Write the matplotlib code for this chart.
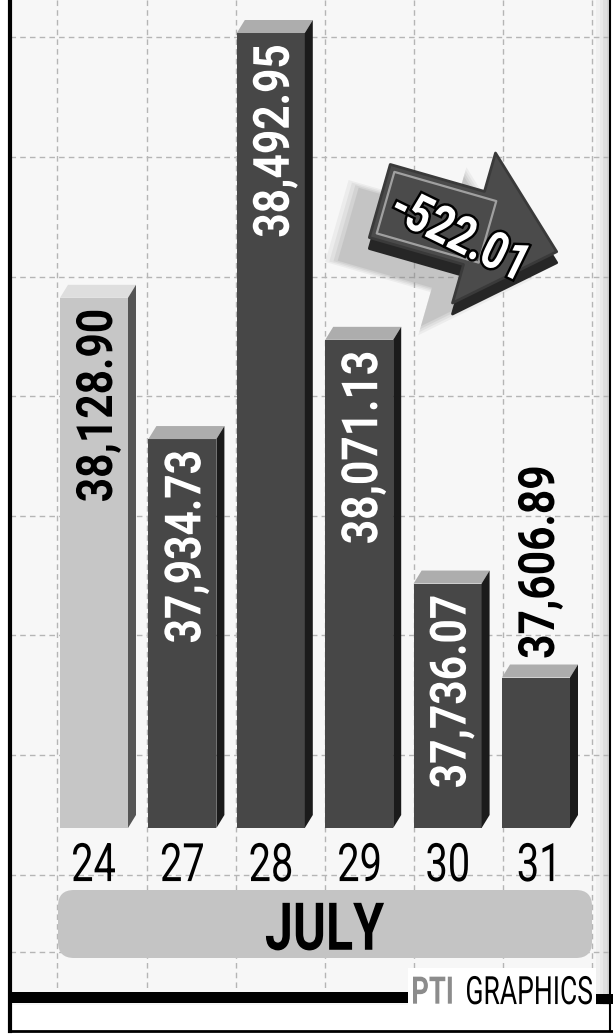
import matplotlib
matplotlib.use('Agg')
import matplotlib.pyplot as plt
import matplotlib.patches as mpatches
from matplotlib.font_manager import FontProperties
from matplotlib.textpath import TextPath
from matplotlib.transforms import Affine2D
import numpy as np

# Sensex closing values, July
dates = ['24', '27', '28', '29', '30', '31']
closes = [38128.90, 37934.73, 38492.95, 38071.13, 37736.07, 37606.89]
month = 'JULY'

W, H = 613, 1034
FAMILY = ['Roboto', 'DejaVu Sans']

base = 37400            # value at the foot of the bars
x0px, xstep = 94, 88.4  # pixel centre of first bar, bar spacing
ypx_base = 828          # pixel row of the bar feet
vpp = 1.3748            # index points per pixel

fig = plt.figure(figsize=(W / 100, H / 100), dpi=100)
fig.patch.set_facecolor('white')
ax = fig.add_axes([0, 0, 1, 1])
ax.set_xlim(-x0px / xstep, (W - x0px) / xstep)
ax.set_ylim(base - (H - ypx_base) * vpp, base + ypx_base * vpp)
ax.axis('off')

# image pixel coords (y down) -> display
pxT = Affine2D().scale(1, -1).translate(0, H)


def ctext(x, y, s, size, color, bold=False, angle=0, ha='center', stretch=0.75,
          stroke=None, zorder=5):
    # condensed text drawn as a path; x, y are display pixels (y up)
    prop = FontProperties(family=FAMILY, weight='bold' if bold else 'normal')
    tp = TextPath((0, 0), s, size=size, prop=prop)
    ext = tp.get_extents()
    hx = {'left': ext.x0, 'center': (ext.x0 + ext.x1) / 2, 'right': ext.x1}[ha]
    tr = (Affine2D().translate(-hx, -0.36 * size).scale(stretch, 1)
          .rotate_deg(angle).translate(x, y))
    if stroke:
        ax.add_patch(mpatches.PathPatch(tp, transform=tr, facecolor=stroke,
                                        edgecolor=stroke, lw=3.5, zorder=zorder))
    ax.add_patch(mpatches.PathPatch(tp, transform=tr, facecolor=color,
                                    edgecolor='none', zorder=zorder))


# paper background + dashed grid
ax.add_patch(mpatches.Rectangle((10, 0), 598, 1005, transform=pxT,
                                facecolor='#f7f7f7', edgecolor='none', zorder=0))
for k, c in enumerate(['#f0f0f0', '#e8e8e8', '#dedede', '#d4d4d4']):
    ax.add_patch(mpatches.Rectangle((596 + 3.5 * k, 0), 3.5, 1005, transform=pxT,
                                    facecolor=c, edgecolor='none', zorder=0))
for gx in [57, 147, 236, 325, 414, 503, 592]:
    ax.plot([gx, gx], [0, 993], transform=pxT, color='#b5b5b5', lw=1,
            ls=(0, (4, 3)), zorder=1)
for gy in [37, 157, 277, 396, 516, 635, 755, 875, 952]:
    ax.plot([10, 608], [gy, gy], transform=pxT, color='#b5b5b5', lw=1,
            ls=(0, (4, 3)), zorder=1)

# 3D bars
xs = np.arange(len(closes))
bw = 68 / xstep
dx = 8 / xstep
dy = 13 * vpp
fronts = ['#c6c6c6'] + ['#474747'] * (len(closes) - 1)
sides = ['#555555'] + ['#1b1b1b'] * (len(closes) - 1)
tops = ['#dedede'] + ['#adadad'] * (len(closes) - 1)
heights = [v - base for v in closes]
ax.bar(xs, heights, bottom=base, width=bw, color=fronts, zorder=3)
for i, v in enumerate(closes):
    l, r = i - bw / 2, i + bw / 2
    ax.add_patch(mpatches.Polygon([(l, v), (r, v), (r + dx, v + dy), (l + dx, v + dy)],
                                  closed=True, facecolor=tops[i], edgecolor='none', zorder=3))
    ax.add_patch(mpatches.Polygon([(r, base), (r, v), (r + dx, v + dy), (r + dx, base + dy)],
                                  closed=True, facecolor=sides[i], edgecolor='none', zorder=3))

    label = f'{v:,.2f}'
    if (v - base) / vpp > 210:
        X, Y = ax.transData.transform((i, v - 13 * vpp))
        ctext(X, Y, label, 50, 'black' if i == 0 else 'white', bold=True,
              angle=90, ha='right', stretch=0.85)
    else:
        X, Y = ax.transData.transform((i, v + 20 * vpp))
        ctext(X, Y, label, 50, 'black', bold=True, angle=90, ha='left', stretch=0.85)

    X, Y = ax.transData.transform((i, base - 34 * vpp))
    ctext(X, Y, dates[i], 53, 'black', stretch=0.75)

# month band
ax.add_patch(mpatches.FancyBboxPatch((58, 890), 534, 68, transform=pxT,
                                     boxstyle='round,pad=0,rounding_size=16',
                                     facecolor='#c4c4c4', edgecolor='none', zorder=2))
ctext(325, H - 926, month, 66, 'black', bold=True, stretch=0.76)

# change arrow
chg = closes[-1] - closes[0]
theta = np.deg2rad(16)
cx, cy = 474, 228
local = np.array([(-98, -38), (0, -38), (0, -78), (86, 0), (0, 78), (0, 38), (-98, 38)])


def place(pts, ox=0, oy=0):
    u, w = pts[:, 0], pts[:, 1]
    xy = np.column_stack([cx + ox + u * np.cos(theta) - w * np.sin(theta),
                          cy + oy + u * np.sin(theta) + w * np.cos(theta)])
    return xy


for k, a in enumerate([0.10, 0.12, 0.15, 0.2]):
    grow = 1.0 + 0.04 * (3 - k)
    ax.add_patch(mpatches.Polygon(place(local * grow - [10, 0], -22, 26), closed=True,
                                  transform=pxT, facecolor='#8c8c8c', alpha=a,
                                  edgecolor='none', zorder=5))
ax.add_patch(mpatches.Polygon(place(local, 0, 11), closed=True, transform=pxT,
                              facecolor='#262626', edgecolor='#262626', lw=2,
                              joinstyle='round', zorder=6))
ax.add_patch(mpatches.Polygon(place(local), closed=True, transform=pxT,
                              facecolor='#4b4b4b', edgecolor='#3a3a3a', lw=2,
                              joinstyle='round', zorder=7))
inner = np.array([(-92, -32), (14, -32), (14, 32), (-92, 32)])
ax.add_patch(mpatches.Polygon(place(inner), closed=True, transform=pxT,
                              facecolor='none', edgecolor='#a0a0a0', lw=1.6,
                              joinstyle='round', zorder=8))
ctext(459, H - 232, f'{chg:.2f}', 52, 'white', bold=True, angle=-26, stretch=0.8,
      stroke='black', zorder=9)

# footer
ax.add_patch(mpatches.Rectangle((10, 992), 398, 11, transform=pxT,
                                facecolor='black', edgecolor='none', zorder=4))
ax.add_patch(mpatches.Rectangle((596, 994), 17, 10, transform=pxT,
                                facecolor='black', edgecolor='none', zorder=4))
ax.add_patch(mpatches.Rectangle((408, 968), 188, 37, transform=pxT,
                                facecolor='white', edgecolor='none', zorder=3))
ctext(413, H - 990, 'PTI', 38, '#8c8c8c', bold=True, ha='left', stretch=0.72)
ctext(467, H - 990, 'GRAPHICS', 39, 'black', ha='left', stretch=0.68)

# frame
ax.plot([9.5, 9.5], [0, 1031], transform=pxT, color='black', lw=3, zorder=10)
ax.plot([9, 613], [1031, 1031], transform=pxT, color='black', lw=2, zorder=10)
ax.plot([610, 610], [0, 1031], transform=pxT, color='black', lw=1.5, zorder=10)

fig.savefig('out.png', dpi=100)
